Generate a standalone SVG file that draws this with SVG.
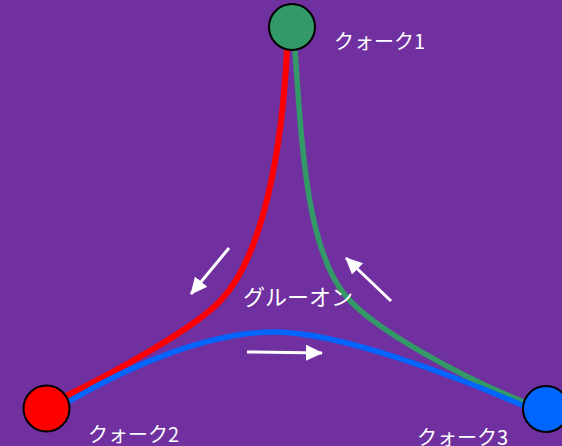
<svg xmlns="http://www.w3.org/2000/svg" width="562" height="446" viewBox="0 0 562 446">
<style>
.bg{fill:#7030A0}
.q{stroke:#000;stroke-width:2}
.c{fill:none;stroke-width:5.5;stroke-linecap:butt}
.a{stroke:#fff;stroke-width:3;fill:none}
.t{font-family:"Noto Sans CJK JP","Noto Sans",sans-serif;font-size:20px;fill:#fff}
</style>
<defs>
<marker id="ah" markerUnits="userSpaceOnUse" markerWidth="18" markerHeight="18" viewBox="0 0 18 18" refX="16" refY="9" orient="auto">
<path d="M0,1 L17,9 L0,17 Z" fill="#fff"/>
</marker>
</defs>
<rect class="bg" x="0" y="0" width="562" height="446"/>
<g id="connectors">
<path class="c" stroke="#FF0000" style="stroke-width:6" d="M287,50 C282,150 263,256 221,300 C196,328 111,374 66,396"/>
<path class="c" stroke="#339966" d="M295,50 C302,150 307,248 345,295 C373,330 468,380 524,402"/>
<path class="c" stroke="#0066FF" d="M68,402 C130,365 210,332 275,332 C340,332 460,378 524,406"/>
<line class="a" x1="229" y1="248" x2="191" y2="294" marker-end="url(#ah)"/>
<line class="a" x1="391" y1="301" x2="346" y2="258" marker-end="url(#ah)"/>
<line class="a" x1="247" y1="352" x2="322" y2="353" marker-end="url(#ah)"/>
</g>
<g id="quark1">
<circle class="q" cx="292" cy="27" r="23" fill="#339966"/>
<text class="t" x="334" y="49">クォーク1</text>
</g>
<g id="quark2">
<circle class="q" cx="46.5" cy="408.5" r="23" fill="#FF0000"/>
<text class="t" x="88" y="442">クォーク2</text>
</g>
<g id="quark3">
<circle class="q" cx="546" cy="409" r="23" fill="#0066FF"/>
<text class="t" x="417" y="445">クォーク3</text>
</g>
<g id="gluon">
<text class="t" x="243" y="305" style="font-size:22px">グルーオン</text>
</g>
</svg>
